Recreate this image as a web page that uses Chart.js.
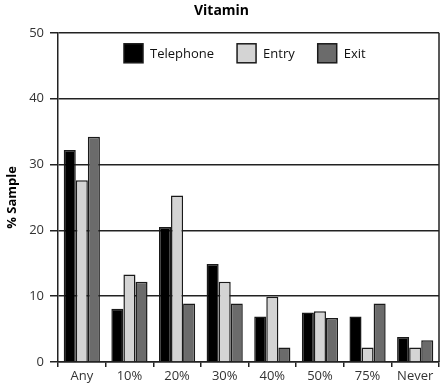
<!DOCTYPE html>
<html>
<head>
<meta charset="utf-8">
<script src="https://cdn.jsdelivr.net/npm/chart.js@4"></script>
<style>
  html, body { margin: 0; padding: 0; background: #fff; }
  #wrap { width: 440px; height: 385px; }
</style>
</head>
<body>
<div id="wrap"><canvas id="chart" width="440" height="385"></canvas></div>
<script>
// Chart data
const categories = ['Any', '10%', '20%', '30%', '40%', '50%', '75%', 'Never'];
const telephone = [32.2, 8.1, 20.5, 14.9, 6.9, 7.5, 6.9, 3.8];
const entry = [27.6, 13.3, 25.3, 12.2, 9.9, 7.7, 2.2, 2.2];
const exitPoll = [34.2, 12.2, 8.9, 8.9, 2.2, 6.7, 8.9, 3.3];
const yTicks = [0, 10, 20, 30, 40, 50];

const font = "'Open Sans', 'Noto Sans', sans-serif";

// Right-hand border of the plot box + legend drawn inside the plot
const frame = {
    id: 'frame',
    afterDraw(chart) {
        const a = chart.chartArea;
        const c = chart.ctx;
        c.save();
        c.strokeStyle = '#222';
        c.lineWidth = 1.5;
        c.beginPath();
        c.moveTo(a.right, a.top);
        c.lineTo(a.right, a.bottom);
        c.stroke();

        // legend row
        const box = 19, gapText = 7, gapItem = 23;
        c.font = '13px ' + font;
        const sets = chart.data.datasets;
        let total = 0;
        sets.forEach((ds, i) => {
            total += box + gapText + c.measureText(ds.label).width;
            if (i < sets.length - 1) total += gapItem;
        });
        let x = Math.round((a.left + a.right) / 2 - 4 - total / 2);
        const y = a.top + 11;
        c.textBaseline = 'middle';
        c.textAlign = 'left';
        sets.forEach(ds => {
            c.fillStyle = ds.backgroundColor;
            c.fillRect(x, y, box, box);
            c.strokeStyle = ds.borderColor;
            c.lineWidth = 1.5;
            c.strokeRect(x, y, box, box);
            x += box + gapText;
            c.fillStyle = '#111';
            c.fillText(ds.label, x, y + box / 2 + 0.5);
            x += c.measureText(ds.label).width + gapItem;
        });
        c.restore();
    }
};

function bars(label, data, color) {
    return {
        label: label,
        data: data,
        backgroundColor: color,
        borderColor: '#1a1a1a',
        borderWidth: 1.5,
        categoryPercentage: 0.76,
        barPercentage: 1.0
    };
}

new Chart(document.getElementById('chart'), {
    type: 'bar',
    data: {
        labels: categories,
        datasets: [
            bars('Telephone', telephone, '#000000'),
            bars('Entry', entry, '#d4d4d4'),
            bars('Exit', exitPoll, '#6b6b6b')
        ]
    },
    plugins: [frame],
    options: {
        responsive: false,
        animation: false,
        layout: { padding: { left: 4, right: 1, top: 0, bottom: 0 } },
        plugins: {
            title: {
                display: true,
                text: 'Vitamin',
                color: '#000',
                font: { family: font, size: 14, weight: 'bold' },
                padding: { top: 3, bottom: 13 }
            },
            legend: { display: false },
            tooltip: { enabled: false }
        },
        scales: {
            x: {
                grid: {
                    offset: true,
                    drawOnChartArea: false,
                    tickLength: 5,
                    color: '#222',
                    lineWidth: 1.5
                },
                border: { color: '#222', width: 1.5 },
                ticks: {
                    color: '#333',
                    font: { family: font, size: 13 },
                    padding: 1
                },
                afterFit(scale) { scale.height = 23; }
            },
            y: {
                min: 0,
                max: 50,
                afterBuildTicks(scale) {
                    scale.ticks = yTicks.map(v => ({ value: v }));
                },
                grid: {
                    color: '#222',
                    lineWidth: 1.5,
                    tickLength: 8
                },
                border: { color: '#222', width: 1.5 },
                ticks: {
                    color: '#333',
                    font: { family: font, size: 13 },
                    padding: 6
                },
                title: {
                    display: true,
                    text: '% Sample',
                    color: '#000',
                    font: { family: font, size: 13, weight: 'bold' },
                    padding: { top: 0, bottom: 2 }
                },
                afterFit(scale) { scale.width = 54; }
            }
        }
    }
});
</script>
</body>
</html>
